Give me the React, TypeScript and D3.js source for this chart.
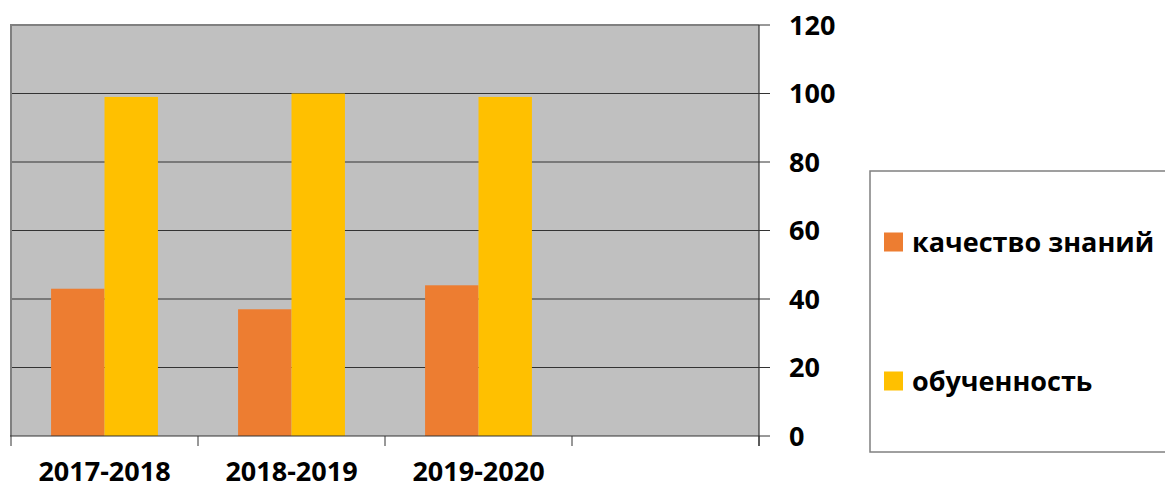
import React from 'react';
import * as d3 from 'd3';

const categories = ['2017-2018', '2018-2019', '2019-2020', ''];
const seriesNames = ['качество знаний', 'обученность'];
const quality = [43, 37, 44];
const learning = [99, 100, 99];
const yTicks = [0, 20, 40, 60, 80, 100, 120];

const colors = ['#ED7D31', '#FFC000'];
const font = '"Open Sans", "DejaVu Sans", sans-serif';

const App = () => {
  const width = 1165;
  const height = 488;
  const plot = { left: 11, right: 759, top: 25, bottom: 436 };

  const xScale = d3.scaleBand<string>()
    .domain(categories)
    .range([plot.left, plot.right])
    .paddingInner(0);

  const xInner = d3.scaleBand<string>()
    .domain(seriesNames)
    .range([0, xScale.bandwidth()])
    .paddingInner(0)
    .paddingOuter(0.75);

  const yScale = d3.scaleLinear()
    .domain([0, 120])
    .range([plot.bottom, plot.top]);

  const series = [quality, learning];

  return (
    <svg width={width} height={height} style={{ position: 'absolute', left: 0, top: 0, background: '#fff' }}>
      <rect x={plot.left} y={plot.top} width={plot.right - plot.left} height={plot.bottom - plot.top} fill="#C0C0C0" />

      {/* gridlines */}
      {yTicks.filter(t => t > 0 && t < 120).map(t => (
        <line key={t} x1={plot.left} x2={plot.right} y1={yScale(t)} y2={yScale(t)} stroke="#333" strokeWidth={1.2} />
      ))}

      {/* bars */}
      {series.map((values, si) => (
        <g key={si} fill={colors[si]}>
          {values.map((v, i) => (
            <rect
              key={i}
              x={(xScale(categories[i]) as number) + (xInner(seriesNames[si]) as number)}
              y={yScale(v)}
              width={xInner.bandwidth()}
              height={yScale(0) - yScale(v)}
            />
          ))}
        </g>
      ))}

      {/* plot border (left/top) */}
      <path d={`M${plot.left},${plot.bottom}V${plot.top}H${plot.right}`} fill="none" stroke="#808080" strokeWidth={2} />

      {/* x axis */}
      <line x1={plot.left - 1} x2={plot.right} y1={plot.bottom} y2={plot.bottom} stroke="#333" strokeWidth={1.2} />
      {categories.map(c => (
        <line key={'t' + c} x1={xScale(c) as number} x2={xScale(c) as number} y1={plot.bottom} y2={plot.bottom + 10} stroke="#333" strokeWidth={1} />
      ))}
      <line x1={plot.right} x2={plot.right} y1={plot.bottom} y2={plot.bottom + 10} stroke="#333" strokeWidth={1} />
      {categories.map(c => (
        <text
          key={'l' + c}
          x={(xScale(c) as number) + xScale.bandwidth() / 2}
          y={481}
          textAnchor="middle"
          fontFamily={font}
          fontWeight="bold"
          fontSize={27}
          fill="#000"
        >{c}</text>
      ))}

      {/* y axis on right */}
      <line x1={plot.right} x2={plot.right} y1={plot.top} y2={plot.bottom + 10} stroke="#333" strokeWidth={1.2} />
      {yTicks.map(t => (
        <g key={t} transform={`translate(0,${yScale(t)})`}>
          <line x1={plot.right} x2={plot.right + 11} stroke="#333" strokeWidth={1} />
          <text x={789} dy="0.36em" fontFamily={font} fontWeight="bold" fontSize={27} fill="#000">{t}</text>
        </g>
      ))}

      {/* legend */}
      <rect x={870} y={171} width={400} height={281} fill="#fff" stroke="#808080" strokeWidth={1.5} />
      {seriesNames.map((name, i) => {
        const cy = [242, 381][i];
        return (
          <g key={name}>
            <rect x={884} y={cy - 9.5} width={19} height={19} fill={colors[i]} />
            <text x={912} y={cy} dy="0.36em" fontFamily={font} fontWeight="bold" fontSize={27} fill="#000">{name}</text>
          </g>
        );
      })}
    </svg>
  );
};

export default App;
